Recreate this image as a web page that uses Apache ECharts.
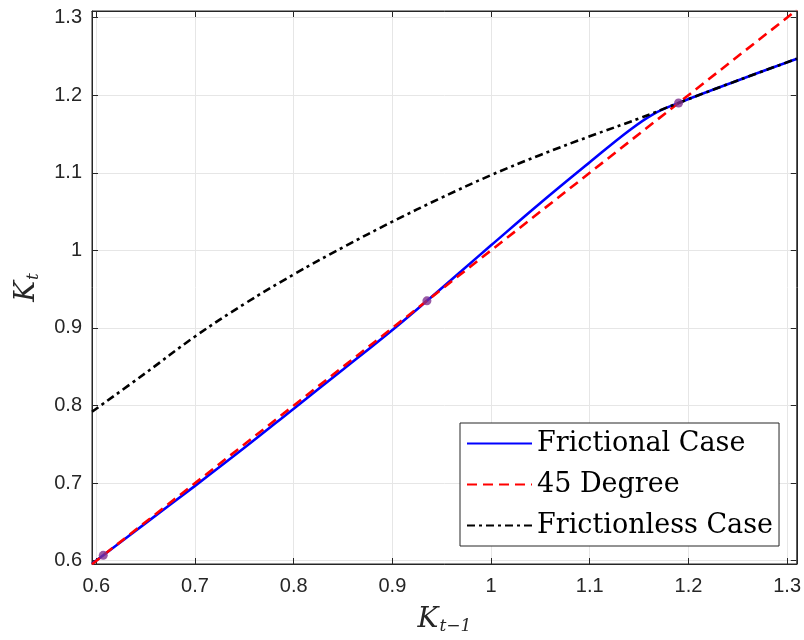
<!DOCTYPE html>
<html>
<head>
<meta charset="utf-8">
<script src="https://cdn.jsdelivr.net/npm/echarts@6/dist/echarts.min.js"></script>
<style>
  html, body { margin: 0; padding: 0; background: #fff; }
  #chart { width: 804px; height: 640px; }
</style>
</head>
<body>
<div id="chart"></div>
<script>
// axis limits and ticks
const xMin = 0.5956, xMax = 1.3098;
const yMin = 0.5958, yMax = 1.3085;
const tickValues = [0.6, 0.7, 0.8, 0.9, 1.0, 1.1, 1.2, 1.3];

// frictional case (blue)
const fricX = [0.5956, 0.607, 0.65, 0.7, 0.75, 0.8, 0.85, 0.9, 0.935, 0.97, 1.0, 1.05, 1.1, 1.14, 1.165, 1.19, 1.25, 1.31];
const fricY = [0.5962, 0.607, 0.6485, 0.6965, 0.7455, 0.796, 0.8465, 0.8975, 0.935, 0.9735, 1.0065, 1.061, 1.1135, 1.1545, 1.176, 1.190, 1.219, 1.247];

// 45 degree line
const degX = [0.5956, 1.3098];
const degY = [0.5956, 1.3098];

// frictionless case (black)
const flessX = [0.5956, 0.65, 0.7, 0.75, 0.8, 0.85, 0.9, 0.95, 1.0, 1.05, 1.1, 1.15, 1.19, 1.25, 1.31];
const flessY = [0.792, 0.842, 0.889, 0.931, 0.969, 1.004, 1.037, 1.068, 1.097, 1.123, 1.147, 1.170, 1.190, 1.219, 1.247];

// steady states
const ssX = [0.607, 0.935, 1.19];
const ssY = [0.607, 0.935, 1.19];

const zip = (xs, ys) => xs.map((x, i) => [x, ys[i]]);
const fmt = v => String(Number(v.toFixed(2)));

const chart = echarts.init(document.getElementById('chart'));

const tickFont = { fontFamily: 'Liberation Sans', fontSize: 20, color: '#262626' };
const gridLine = { show: true, lineStyle: { color: '#e6e6e6', width: 1 } };
const nameRich = {
  k: { fontFamily: 'DejaVu Serif', fontStyle: 'italic', fontSize: 28, color: '#262626' },
  s: { fontFamily: 'DejaVu Serif', fontStyle: 'italic', fontSize: 17, color: '#262626', padding: [14, 0, 0, 1] }
};

const option = {
  animation: false,
  backgroundColor: '#fff',
  grid: {
    left: 92, right: 5, top: 11, bottom: 75,
    show: true, borderColor: '#262626', borderWidth: 1
  },
  xAxis: [{
    type: 'value', min: xMin, max: xMax,
    axisLine: { show: true, onZero: false, lineStyle: { color: '#262626' } },
    axisTick: { show: true, inside: true, length: 6, customValues: tickValues, lineStyle: { color: '#262626' } },
    axisLabel: { ...tickFont, margin: 12, customValues: tickValues, formatter: fmt },
    splitLine: gridLine,
    name: '{k|K}{s|t−1}',
    nameLocation: 'middle', nameGap: 40,
    nameTextStyle: { rich: nameRich }
  }, {
    type: 'value', position: 'top', min: xMin, max: xMax,
    axisLine: { show: true, onZero: false, lineStyle: { color: '#262626' } },
    axisTick: { show: true, inside: true, length: 6, customValues: tickValues, lineStyle: { color: '#262626' } },
    axisLabel: { show: false },
    splitLine: { show: false }
  }],
  yAxis: [{
    type: 'value', min: yMin, max: yMax,
    axisLine: { show: true, onZero: false, lineStyle: { color: '#262626' } },
    axisTick: { show: true, inside: true, length: 6, customValues: tickValues, lineStyle: { color: '#262626' } },
    axisLabel: { ...tickFont, margin: 10, customValues: tickValues, formatter: fmt },
    splitLine: gridLine,
    name: '{k|K}{s|t}',
    nameLocation: 'middle', nameGap: 50, nameRotate: 90,
    nameTextStyle: { rich: nameRich }
  }, {
    type: 'value', position: 'right', min: yMin, max: yMax,
    axisLine: { show: true, onZero: false, lineStyle: { color: '#262626' } },
    axisTick: { show: true, inside: true, length: 6, customValues: tickValues, lineStyle: { color: '#262626' } },
    axisLabel: { show: false },
    splitLine: { show: false }
  }],
  legend: {
    data: ['Frictional Case', '45 Degree', 'Frictionless Case'],
    orient: 'vertical',
    left: 460, top: 423,
    padding: [7, 6, 7, 6],
    itemGap: 14,
    itemWidth: 65, itemHeight: 14,
    backgroundColor: '#fff',
    borderColor: '#262626', borderWidth: 1, borderRadius: 0,
    itemStyle: { color: 'rgba(0,0,0,0)', borderWidth: 0, opacity: 0 },
    textStyle: { fontFamily: 'DejaVu Serif', fontSize: 27, color: '#000' }
  },
  series: [{
    name: 'Frictional Case',
    type: 'line',
    data: zip(fricX, fricY),
    smooth: 0.4,
    symbol: 'none',
    color: '#0000ff',
    lineStyle: { color: '#0000ff', width: 2.6 }
  }, {
    name: '45 Degree',
    type: 'line',
    data: zip(degX, degY),
    symbol: 'none',
    color: '#ff0000',
    lineStyle: { color: '#ff0000', width: 2.6, type: [10, 6] }
  }, {
    name: 'Frictionless Case',
    type: 'line',
    data: zip(flessX, flessY),
    smooth: 0.4,
    symbol: 'none',
    color: '#000000',
    lineStyle: { color: '#000000', width: 2.6, type: [8, 4, 3, 4] }
  }, {
    name: 'Steady states',
    type: 'scatter',
    data: zip(ssX, ssY),
    symbol: 'circle',
    symbolSize: 9,
    itemStyle: { color: '#7e2f8e' },
    z: 5
  }]
};

chart.setOption(option);
</script>
</body>
</html>
